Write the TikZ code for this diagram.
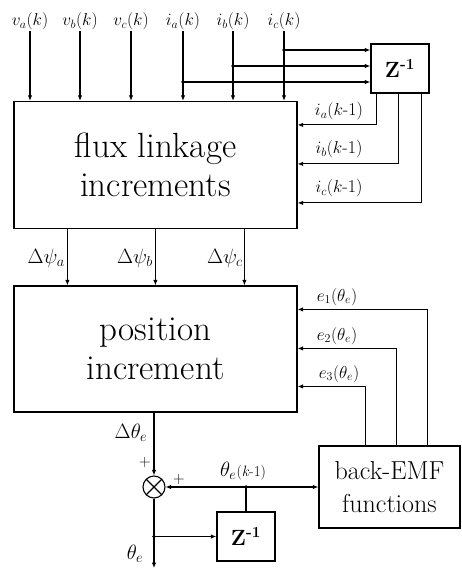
\documentclass[tikz,border=0pt]{standalone}
\usetikzlibrary{arrows.meta}
\begin{document}
\begin{tikzpicture}[
 x=1pt,y=-1pt,
 blk/.style={draw,line width=1.2pt,inner sep=0pt,align=center},
 arr/.style={line width=1.1pt,-{Latex[length=5.5pt,width=4.5pt]}},
 ln/.style={line width=1.1pt},
 lbl/.style={inner sep=1pt,font=\fontsize{18}{20}\selectfont},
 dotc/.style={circle,fill,inner sep=0pt,minimum size=3.8pt},
]
\useasboundingbox[fill=white] (0,0) rectangle (462,571);

% blocks
\node[blk,minimum width=283pt,minimum height=127pt,font=\fontsize{35}{41}\selectfont] (flux) at (155.5,165) {flux linkage\\[-2pt]increments};
\node[blk,minimum width=58pt,minimum height=49pt,font=\fontsize{22}{24}\selectfont\bfseries] (z1) at (400,68.5) {Z\textsuperscript{-1}};
\node[blk,minimum width=283pt,minimum height=126pt,font=\fontsize{35}{41}\selectfont] (pos) at (155.5,349) {position\\[-2pt]increment};
\node[blk,minimum width=141pt,minimum height=82pt,font=\fontsize{26}{33}\selectfont] (bemf) at (389.5,487) {back-EMF\\functions};
\node[draw,circle,line width=1.1pt,minimum size=22pt,inner sep=0pt,
  path picture={\draw[line width=1.1pt] (path picture bounding box.north west) -- (path picture bounding box.south east)
                 (path picture bounding box.north east) -- (path picture bounding box.south west);}] (sum) at (154,487) {};
\node[blk,minimum width=58pt,minimum height=49pt,font=\fontsize{22}{24}\selectfont\bfseries] (z2) at (246,536.5) {Z\textsuperscript{-1}};

% inputs
\node[lbl,anchor=south] (va) at (30,31) {$v_a(k)$};
\node[lbl,anchor=south] (vb) at (80,31) {$v_b(k)$};
\node[lbl,anchor=south] (vc) at (131,31) {$v_c(k)$};
\node[lbl,anchor=south] (ia) at (183,31) {$i_a(k)$};
\node[lbl,anchor=south] (ib) at (233,31) {$i_b(k)$};
\node[lbl,anchor=south] (ic) at (284,31) {$i_c(k)$};
\foreach \n in {va,vb,vc,ia,ib,ic}{
  \draw[arr] (\n.south) -- (\n.south |- flux.north);
}

% taps to delay
\node[dotc] (dc) at (284,50) {};
\node[dotc] (db) at (233,66) {};
\node[dotc] (da) at (183,82) {};
\draw[arr] (dc.center) -- (dc -| z1.west);
\draw[arr] (db.center) -- (db -| z1.west);
\draw[arr] (da.center) -- (da -| z1.west);

% delayed currents back
\draw[arr] ([xshift=6pt]z1.south west) |- ([yshift=-24pt]flux.north east);
\draw[arr] ([xshift=28pt]z1.south west) |- ([yshift=-63pt]flux.north east);
\draw[arr] ([xshift=51pt]z1.south west) |- ([yshift=-102pt]flux.north east);
\node[lbl] (la) at (339,111) {$i_a(k$-1)};
\node[lbl] (lb) at (339,149) {$i_b(k$-1)};
\node[lbl] (lc) at (339,188) {$i_c(k$-1)};

% flux increments
\draw[arr] ([xshift=54pt]flux.south west) -- ([xshift=54pt]pos.north west);
\draw[arr] ([xshift=142pt]flux.south west) -- ([xshift=142pt]pos.north west);
\draw[arr] ([xshift=231pt]flux.south west) -- ([xshift=231pt]pos.north west);
\node[inner sep=0pt,anchor=east,font=\fontsize{21}{23}\selectfont] (psa) at (65,258) {$\Delta\psi_a$};
\node[inner sep=0pt,anchor=east,font=\fontsize{21}{23}\selectfont] (psb) at (153,258) {$\Delta\psi_b$};
\node[inner sep=0pt,anchor=east,font=\fontsize{21}{23}\selectfont] (psc) at (243,258) {$\Delta\psi_c$};

% back-EMF feedback
\draw[arr] ([xshift=109pt]bemf.north west) |- ([yshift=-24pt]pos.north east);
\draw[arr] ([xshift=78pt]bemf.north west) |- ([yshift=-63pt]pos.north east);
\draw[arr] ([xshift=47pt]bemf.north west) |- ([yshift=-101pt]pos.north east);
\node[inner sep=0pt,font=\fontsize{18}{20}\selectfont] (e1) at (337,297) {$e_1(\theta_e)$};
\node[inner sep=0pt,font=\fontsize{18}{20}\selectfont] (e2) at (337,336) {$e_2(\theta_e)$};
\node[inner sep=0pt,font=\fontsize{18}{20}\selectfont] (e3) at (339,374) {$e_3(\theta_e)$};

% position output and integrator
\draw[arr] (sum.north |- pos.south) -- (sum.north);
\node[inner sep=0pt,font=\fontsize{20}{22}\selectfont] (dth) at (131,433) {$\Delta\theta_e$};
\node[inner sep=0pt,font=\fontsize{16}{18}\selectfont] (p1) at (145,463) {+};
\node[inner sep=0pt,font=\fontsize{16}{18}\selectfont] (p2) at (179,480) {+};

\node[dotc] (j) at (246,487) {};
\draw[arr] (j.center) -- (sum.east);
\draw[arr] (j.center) -- (bemf.west);
\draw[ln] (j.center) -- (z2.north);
\node[inner sep=0pt] (thk) at (243,471) {\fontsize{20}{22}\selectfont$\theta_e$\fontsize{15}{17}\selectfont(\textit{k}-1)};

\coordinate (out) at (154,568);
\draw[arr] (sum.south) -- (out);
\node[dotc] (j2) at (sum.south |- z2.west) {};
\draw[arr] (j2.center) -- (z2.west);
\node[inner sep=0pt,font=\fontsize{20}{22}\selectfont] (th) at (135,554) {$\theta_e$};
\end{tikzpicture}
\end{document}
